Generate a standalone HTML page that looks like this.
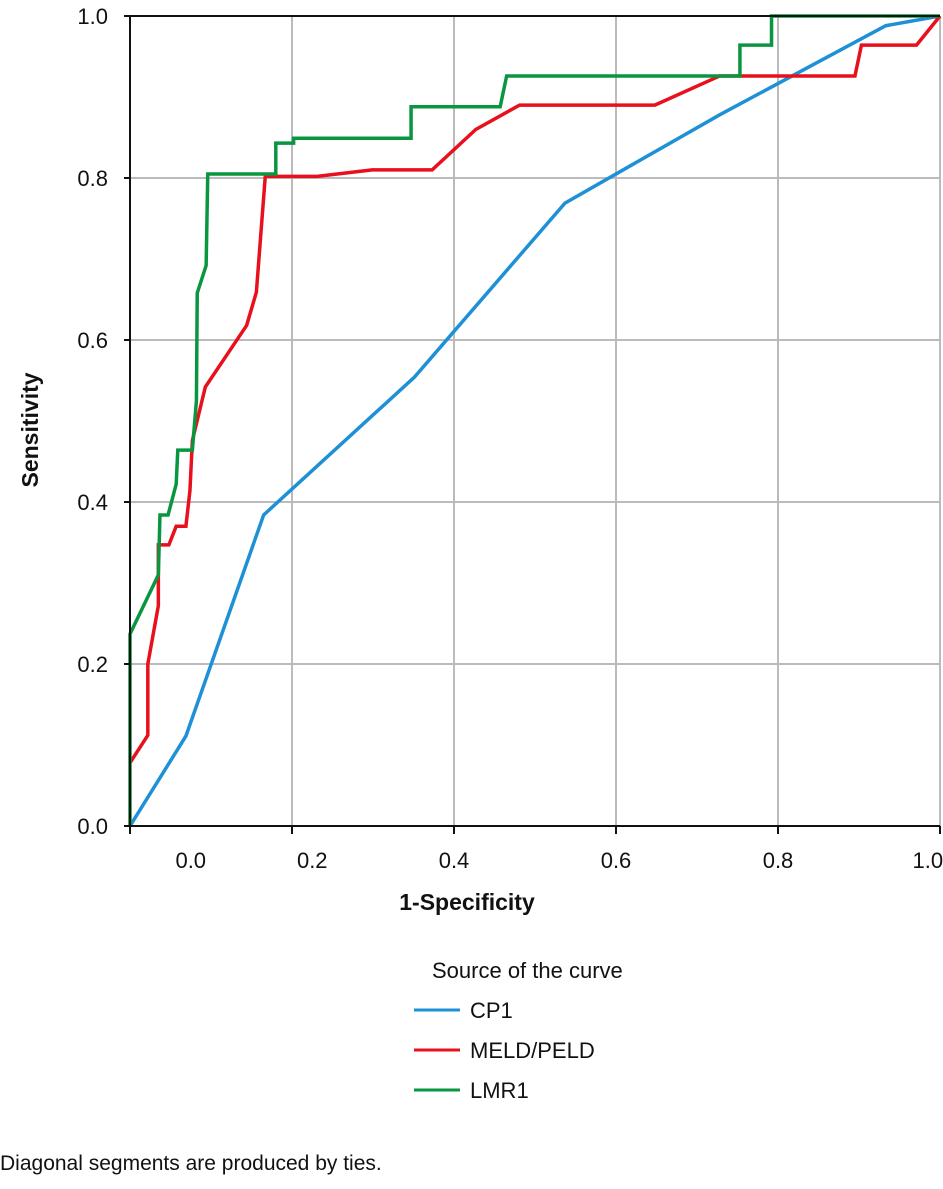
<!DOCTYPE html>
<html><head><meta charset="utf-8"><style>
body{margin:0;background:#fff}
svg text{font-family:"Liberation Sans",sans-serif;fill:#111}
</style></head><body>
<svg width="943" height="1184" id="c">
<g id="grid"></g><g id="series"></g><g id="axes"></g>
<text x="38" y="430" font-size="23" font-weight="bold" transform="rotate(-90 38 430)" text-anchor="middle">Sensitivity</text>
<text x="467" y="910" font-size="23" font-weight="bold" text-anchor="middle">1-Specificity</text>
<text x="432" y="978" font-size="22">Source of the curve</text>
<g><line x1="414" y1="1010" x2="460" y2="1010" stroke="#1e90d6" stroke-width="3"/><text x="470" y="1018" font-size="22">CP1</text></g>
<g><line x1="414" y1="1050" x2="460" y2="1050" stroke="#e8101c" stroke-width="3"/><text x="470" y="1058" font-size="22">MELD/PELD</text></g>
<g><line x1="414" y1="1090" x2="460" y2="1090" stroke="#0a9640" stroke-width="3"/><text x="470" y="1098" font-size="22">LMR1</text></g>
<text x="0" y="1170" font-size="21">Diagonal segments are produced by ties.</text>
</svg>
<script>
const yTicks=[0,0.2,0.4,0.6,0.8,1.0];
const xTickLabels=["0.0","0.2","0.4","0.6","0.8","1.0"];
const xLabelPos=[0.075,0.225,0.4,0.6,0.8,0.985];
const cpX=[0,0.069,0.165,0.351,0.537,0.728,0.933,1];
const cpY=[0,0.111,0.384,0.554,0.769,0.878,0.988,1];
const meldX=[0,0.022,0.022,0.035,0.035,0.048,0.057,0.069,0.074,0.077,0.093,0.144,0.156,0.167,0.231,0.299,0.373,0.427,0.481,0.648,0.728,0.895,0.903,0.971,1];
const meldY=[0.078,0.112,0.2,0.272,0.347,0.347,0.37,0.37,0.414,0.476,0.542,0.618,0.659,0.802,0.802,0.81,0.81,0.86,0.89,0.89,0.926,0.926,0.964,0.964,1];
const lmrX=[0,0,0.035,0.037,0.047,0.057,0.059,0.077,0.082,0.083,0.094,0.096,0.180,0.180,0.202,0.202,0.347,0.347,0.457,0.465,0.753,0.753,0.792,0.792,1];
const lmrY=[0,0.237,0.31,0.384,0.384,0.422,0.464,0.464,0.525,0.658,0.692,0.805,0.805,0.843,0.843,0.849,0.849,0.888,0.888,0.926,0.926,0.964,0.964,1,1];
const L=130,R=940,T=16,B=826;
const sx=v=>L+v*(R-L), sy=v=>B-v*(B-T);
const NS="http://www.w3.org/2000/svg";
function mk(t,a,p){const e=document.createElementNS(NS,t);for(const k in a)e.setAttribute(k,a[k]);p.appendChild(e);return e;}
const g=document.getElementById('grid'),ax=document.getElementById('axes'),s=document.getElementById('series');
yTicks.forEach((v,i)=>{
 const l=mk('line',{x1:L,x2:R,y1:sy(v),y2:sy(v),stroke:'#bbb','stroke-width':2},g);
 
 
 const vl=mk('line',{x1:sx(v),x2:sx(v),y1:T,y2:B,stroke:'#bbb','stroke-width':2},g);
 
 
 mk('line',{x1:L-6,x2:L,y1:sy(v),y2:sy(v),stroke:'#111','stroke-width':2},ax);
 mk('line',{x1:sx(v),x2:sx(v),y1:B,y2:B+8,stroke:'#111','stroke-width':2},ax);
 const t=mk('text',{x:L-22,y:sy(v)+8,'font-size':22,'text-anchor':'end'},ax);t.textContent=v.toFixed(1);
 
 
});
xTickLabels.forEach((lab,i)=>{
 const t=mk('text',{x:sx(xLabelPos[i]),y:868,'font-size':22,'text-anchor':'middle'},ax);t.textContent=lab;
 
 
});
mk('line',{x1:L,x2:R,y1:B,y2:B,stroke:'#111','stroke-width':2},ax);
mk('line',{x1:L,x2:L,y1:T,y2:B,stroke:'#111','stroke-width':2},ax);
mk('line',{x1:L,x2:R,y1:T,y2:T,stroke:'#111','stroke-width':2},ax);
function line(xs,ys,c,n){
 const p=mk('polyline',{points:xs.map((x,i)=>sx(x)+','+sy(ys[i])).join(' '),fill:'none',stroke:c,'stroke-width':3.5,'stroke-linejoin':'miter'},s);
 
 
}
line(cpX,cpY,'#1e90d6','cp1-curve');
line(meldX,meldY,'#e8101c','meld-peld-curve');
line(lmrX,lmrY,'#0a9640','lmr1-curve');
</script>
</body></html>
